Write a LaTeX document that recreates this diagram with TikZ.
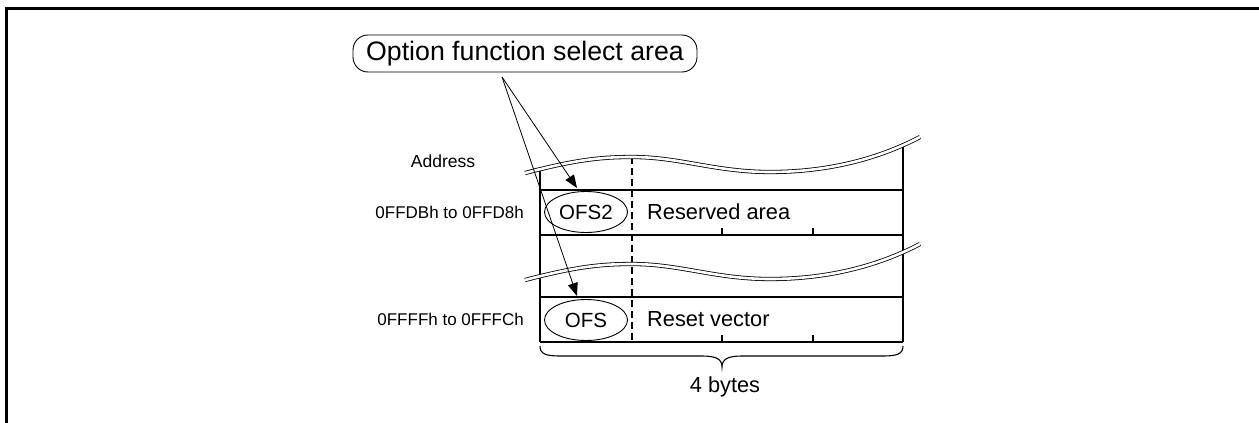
\documentclass[tikz,border=0pt]{standalone}
\usepackage{fontspec}
\setmainfont{Liberation Sans}
\usetikzlibrary{arrows.meta,calc,shapes.geometric}
\begin{document}
\begin{tikzpicture}[x=1pt,y=-1pt,
  cell/.style={line width=2.2pt},
  wave/.style={draw=black, double=white, double distance=2.6pt, line width=0.8pt},
  lbl/.style={inner sep=0pt, font=\fontsize{21.8}{26}\selectfont},
  addr/.style={inner sep=0pt, anchor=east, font=\fontsize{17}{20}\selectfont},
  ofsell/.style={ellipse, draw, line width=0.9pt, minimum width=83pt, minimum height=41pt, inner sep=0pt, font=\fontsize{20.5}{24}\selectfont},
  ptr/.style={line width=0.8pt, -{Triangle[length=13pt,width=10pt]}},
]
\useasboundingbox (0,0) rectangle (1259,423);
% frame
\draw[line width=3pt] (6.5,423) -- (6.5,8.5) -- (1259,8.5);

% vertical lines
\draw[cell] (540,168) -- (540,342);
\draw[cell] (903,144) -- (903,342);
\draw[line width=2.6pt, dash pattern=on 7pt off 4pt] (632,157) -- (632,342);
% horizontal lines
\draw[cell] (540,190) -- (903,190);
\draw[cell] (540,235) -- (903,235);
\draw[cell] (540,297) -- (903,297);
\draw[cell] (540,342) -- (903,342);
% ticks
\foreach \tx in {722,813}{
  \draw[line width=1.4pt] (\tx,235) -- (\tx,228);
  \draw[line width=1.4pt] (\tx,342) -- (\tx,335);
}
% waves
\draw[wave] (525,173) .. controls (575,160) and (600,157) .. (632,157) .. controls (680,157) and (715,172) .. (770,172) .. controls (830,172) and (880,158) .. (920,137);
\begin{scope}[shift={(0,107)}]
\draw[wave] (525,173) .. controls (575,160) and (600,157) .. (632,157) .. controls (680,157) and (715,172) .. (770,172) .. controls (830,172) and (880,158) .. (920,137);
\end{scope}

% labels
\node[inner sep=0pt, font=\fontsize{17.5}{20}\selectfont] (address) at (443,161) {Address};
\node[addr] (a1) at (524,212) {0FFDBh to 0FFD8h};
\node[addr] (a2) at (524,319) {0FFFFh to 0FFFCh};
\node[ofsell] (ofs2) at (586,212) {OFS2};
\node[ofsell] (ofs) at (586,320) {OFS};
\node[lbl, anchor=west] (res) at (647,212) {Reserved area};
\node[lbl, anchor=west] (rst) at (647,319) {Reset vector};
\node[lbl] (bytes) at (725,387) {4 bytes};

% title
\node[draw, rounded corners=15pt, line width=0.9pt, minimum width=344pt, minimum height=37pt,
      font=\fontsize{26.7}{32}\selectfont, inner sep=0pt] (opt) at (525,53.5) {Option function select area};

% arrows
\coordinate (src) at (502,77);
\coordinate (t2) at (577,188);
\coordinate (t1) at (577,296);
\draw[ptr] (src) -- (t2);
\draw[ptr] (src) -- (t1);

% brace
\draw[line width=1.1pt] (540,346) .. controls (540,354) and (546,356) .. (560,356) -- (702,356)
  .. controls (716,356) and (722,359) .. (722,367) .. controls (722,359) and (728,356) .. (742,356)
  -- (883,356) .. controls (897,356) and (903,354) .. (903,346);
\end{tikzpicture}
\end{document}
